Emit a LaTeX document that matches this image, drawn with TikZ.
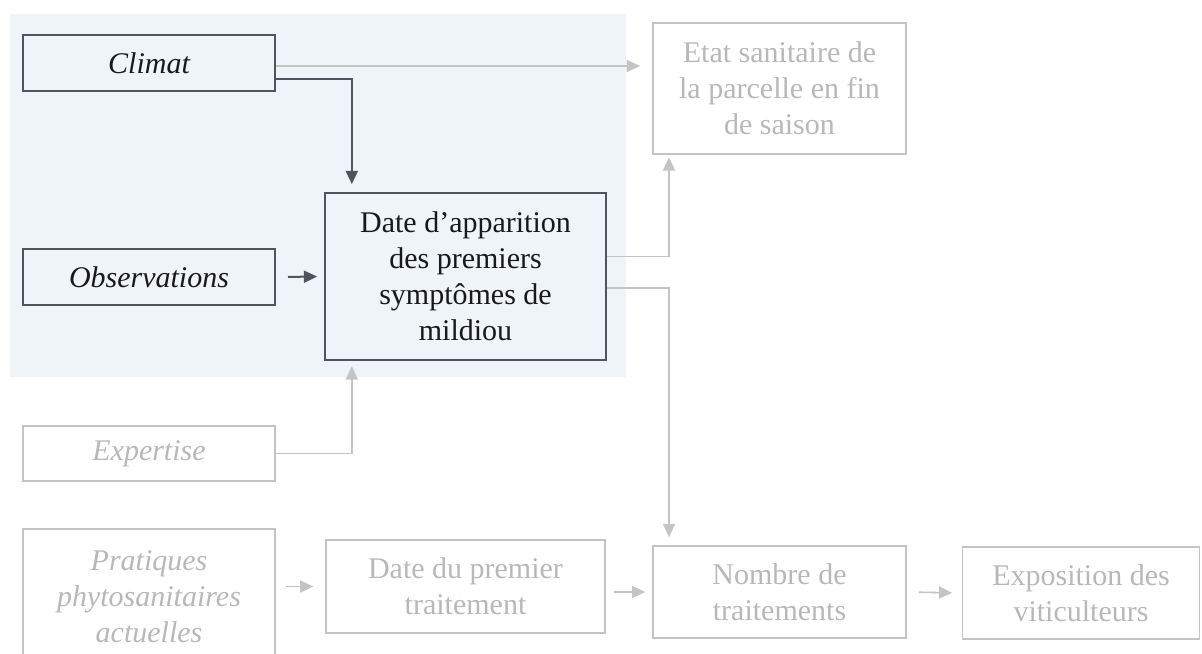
\documentclass[tikz,border=0pt]{standalone}
\usepackage{fontspec}
\setmainfont{Liberation Serif}
\usepackage{tikz}
\usetikzlibrary{arrows.meta}

\definecolor{zonebg}{HTML}{EFF4F9}
\definecolor{darkline}{HTML}{50555C}
\definecolor{paleline}{HTML}{C4C4C4}
\definecolor{paletext}{HTML}{B8B8B8}

\begin{document}
\begin{tikzpicture}[x=0.75pt, y=-0.75pt,
        every node/.style={font=\fontsize{22.5}{27}\selectfont, align=center, inner sep=0pt},
        darkbox/.style={draw=darkline, line width=1.5pt, fill=zonebg, text=black!90},
        palebox/.style={draw=paleline, line width=1.2pt, text=paletext},
        darkarrow/.style={draw=darkline, line width=1.5pt, -{Triangle[length=10pt,width=9pt]}},
        palearrow/.style={draw=paleline, line width=1.2pt, -{Triangle[length=10pt,width=9pt]}}]
        \useasboundingbox (0,0) rectangle (1202,653);
        \fill [zonebg] (10,14) rectangle (626,377);

        \node [darkbox, minimum width=189pt, minimum height=42pt] (climat) at (149,63) {\itshape Climat};
        \node [darkbox, minimum width=189pt, minimum height=42pt] (obs) at (149,277) {\itshape Observations};
        \node [darkbox, minimum width=211pt, minimum height=125pt] (apparition) at (465.5,276.5) {Date d’apparition\\des premiers\\symptômes de\\mildiou};
        \node [palebox, minimum width=189pt, minimum height=41pt] (expertise) at (149,453.5) {\itshape Expertise};
        \node [palebox, minimum width=189pt, minimum height=102pt] (pratiques) at (149,597) {\itshape Pratiques\\\itshape phytosanitaires\\\itshape actuelles};
        \node [palebox, minimum width=209pt, minimum height=70pt] (premier) at (465.5,586.5) {Date du premier\\traitement};
        \node [palebox, minimum width=190pt, minimum height=69pt] (nombre) at (779.5,592) {Nombre de\\traitements};
        \node [palebox, minimum width=178pt, minimum height=69pt] (exposition) at (1081,593) {Exposition des\\viticulteurs};
        \node [palebox, minimum width=190pt, minimum height=98pt] (etat) at (779.5,88.5) {Etat sanitaire de\\la parcelle en fin\\de saison};

        \draw [palearrow, shorten >=9pt] ([yshift=-2.25pt]climat.east) -- ([yshift=-2.25pt]climat.east -| etat.west);
        \draw [darkarrow, shorten >=6pt] ([yshift=-12pt]climat.east) -| ([xshift=21pt]apparition.north west);
        \draw [darkarrow, shorten <=9pt, shorten >=5pt] (obs.east) -- (apparition.west);
        \draw [palearrow, shorten >=4pt] (expertise.east) -| ([xshift=21pt]apparition.south west);
        \draw [palearrow, shorten >=2pt] ([yshift=15pt]apparition.east) -| ([xshift=12.75pt]etat.south west);
        \draw [palearrow, shorten >=6pt] ([yshift=-8.6pt]apparition.east) -| ([xshift=12.75pt]nombre.north west);
        \draw [palearrow, shorten <=8pt, shorten >=9pt] (pratiques.east |- premier) -- (premier.west);
        \draw [palearrow, shorten <=6pt, shorten >=5pt] (premier.east |- nombre) -- (nombre.west);
        \draw [palearrow, shorten <=9pt, shorten >=7pt] (nombre.east) -- (exposition.west);
    \end{tikzpicture}
\end{document}
